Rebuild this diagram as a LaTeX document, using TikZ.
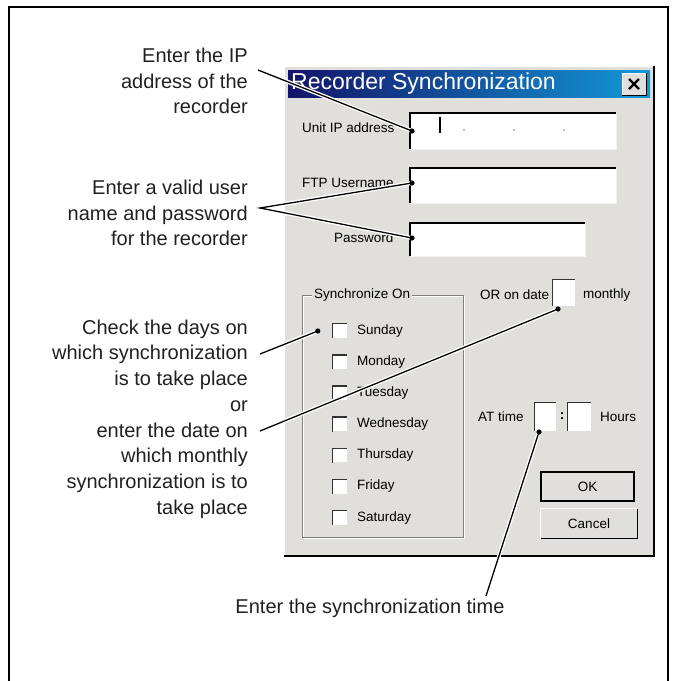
\documentclass[tikz,border=0pt]{standalone}
\usepackage{fontspec}
\setmainfont{Liberation Sans}
\usetikzlibrary{positioning}

\definecolor{dlggrey}{RGB}{224,223,220}
\definecolor{titledark}{RGB}{20,20,105}
\definecolor{titlelight}{RGB}{18,152,215}
\definecolor{edgegrey}{RGB}{128,128,128}
\definecolor{inkgrey}{RGB}{35,31,32}

\tikzset{
  callout/.style={font=\fontsize{20}{25.7}\selectfont, align=right, inner sep=0pt, text=inkgrey},
  uitext/.style={font=\fontsize{13.5}{16}\selectfont, inner sep=0pt},
  leader/.style={line width=1.3pt, preaction={draw, white, line width=4pt}},
  field/.style={fill=white, inner sep=0pt, anchor=north west},
  checkbox/.style={fill=white, inner sep=0pt, minimum size=14pt},
  button/.style={fill=dlggrey, inner sep=0pt, font=\fontsize{13.5}{16}\selectfont},
}

\begin{document}
\begin{tikzpicture}[x=1pt,y=-1pt]
\useasboundingbox (0,0) rectangle (677,681);

% outer frame, open at the bottom
\draw[line width=1.6pt] (9,681) -- (9,7) -- (668,7) -- (668,681);

% dialog window
\fill[dlggrey] (284,66) rectangle (654,556);
\draw[white, line width=1pt] (284.5,556) -- (284.5,66.5) -- (654,66.5);
\draw[line width=1.4pt] (284,556) -- (654,556) -- (654,66);
\shade[left color=titledark, right color=titlelight] (288,70) rectangle (650,97);
\node[anchor=west, inner sep=0pt, white, font=\fontsize{23}{26}\selectfont] (title) at (291,84) {Recorder Synchronization};

% close button
\node[fill=dlggrey, inner sep=0pt, minimum width=24pt, minimum height=22pt] (closebtn) at (634,84) {};
\draw[white] (closebtn.south west) |- (closebtn.north east);
\draw[line width=1pt] (closebtn.south west) -| (closebtn.north east);
\draw[line width=2.2pt] ([shift={(-5pt,-5pt)}]closebtn.center) -- ([shift={(5pt,5pt)}]closebtn.center);
\draw[line width=2.2pt] ([shift={(-5pt,5pt)}]closebtn.center) -- ([shift={(5pt,-5pt)}]closebtn.center);

% text fields
\node[uitext, anchor=west] (iplabel) at (302,128) {Unit IP address};
\node[uitext, anchor=west] (userlabel) at (302,183) {FTP Username};
\node[uitext, anchor=west] (pwlabel) at (334,238) {Password};
\node[field, minimum width=206pt, minimum height=36pt] (ipfield) at (410,113) {};
\node[field, minimum width=206pt, minimum height=35pt] (userfield) at (410,168) {};
\node[field, minimum width=175pt, minimum height=33pt] (pwfield) at (410,223) {};
\foreach \f in {ipfield,userfield,pwfield} {
  \draw[line width=1.8pt] (\f.south west) |- (\f.north east);
  \draw[white!90!gray, line width=1pt] (\f.north east) |- (\f.south west);
}
\draw[line width=1.2pt] (440,117) -- (440,133);
\foreach \x in {464,514,564}
  \fill[gray] (\x,130) circle (0.9pt);

% synchronize on group
\draw[white] (303,296) rectangle (464,538);
\draw[edgegrey] (302,295) rectangle (463,537);
\node[uitext, fill=dlggrey, inner xsep=2pt, anchor=west] (grouplabel) at (312,295) {Synchronize On};
\foreach \day [count=\i from 0] in {Sunday,Monday,Tuesday,Wednesday,Thursday,Friday,Saturday} {
  \node[checkbox] (cb\i) at (340,{331+31.1*\i}) {};
  \draw[black!80, line width=1.3pt] (cb\i.south west) |- (cb\i.north east);
  \node[uitext, anchor=west] (day\i) at (357,{331+31.1*\i}) {\day};
}

% monthly date
\node[uitext, anchor=west] (datelabel) at (480,295) {OR on date};
\node[checkbox, minimum width=22pt, minimum height=26pt] (datebox) at (564,293) {};
\draw[black!80, line width=1.3pt] (datebox.south west) |- (datebox.north east);
\node[uitext, anchor=west] (monthlabel) at (583,295) {monthly};

% time
\node[uitext, anchor=west] (timelabel) at (478,417) {AT time};
\node[checkbox, minimum width=21pt, minimum height=28pt] (hourbox) at (545.5,417) {};
\draw[black!80, line width=1.3pt] (hourbox.south west) |- (hourbox.north east);
\node[uitext, font=\bfseries\fontsize{13.5}{16}\selectfont] (colon) at (562,416) {:};
\node[checkbox, minimum width=23pt, minimum height=28pt] (minbox) at (579.5,417) {};
\draw[black!80, line width=1.3pt] (minbox.south west) |- (minbox.north east);
\node[uitext, anchor=west] (hourlabel) at (600,417) {Hours};

% buttons
\node[button, draw, line width=1.5pt, minimum width=93pt, minimum height=29pt] (okbtn) at (587.5,486.5) {OK};
\node[button, minimum width=96pt, minimum height=29pt] (cancelbtn) at (589,523.5) {Cancel};
\draw[white, line width=1pt] (cancelbtn.south west) |- (cancelbtn.north east);
\draw[line width=1pt] (cancelbtn.south west) -| (cancelbtn.north east);

% callout texts
\node[callout, anchor=east] (ipnote) at (248,81) {Enter the IP\\address of the\\recorder};
\node[callout, anchor=east] (usernote) at (248,213) {Enter a valid user\\name and password\\for the recorder};
\node[callout, anchor=east] (daynote) at (248,419) {Check the days on\\which synchronization\\is to take place\\or\\enter the date on\\which monthly\\synchronization is to\\take place};
\node[callout] (timenote) at (370,608) {Enter the synchronization time};

% leader ends
\coordinate (ipstart) at (258,70);
\coordinate (userstart) at (260,208);
\coordinate (daystart) at (260,354);
\coordinate (datestart) at (260,431);
\coordinate (timestart) at (486,596);
\coordinate (ipdot) at (412,131);
\coordinate (userdot) at (412,183);
\coordinate (pwdot) at (412,238);
\coordinate (sundot) at ([xshift=-15pt]cb0.west);
\coordinate (datedot) at (558,309);
\coordinate (timedot) at (539,432);

% leaders
\draw[leader] (ipstart) -- (ipdot);
\draw[leader] (userdot) -- (userstart) -- (pwdot);
\draw[leader] (daystart) -- (sundot);
\draw[leader] (datestart) -- (datedot);
\draw[leader] (timestart) -- (timedot);
\foreach \d in {ipdot,userdot,pwdot,sundot,datedot,timedot}
  \fill (\d) circle (2.6pt);

\end{tikzpicture}
\end{document}
